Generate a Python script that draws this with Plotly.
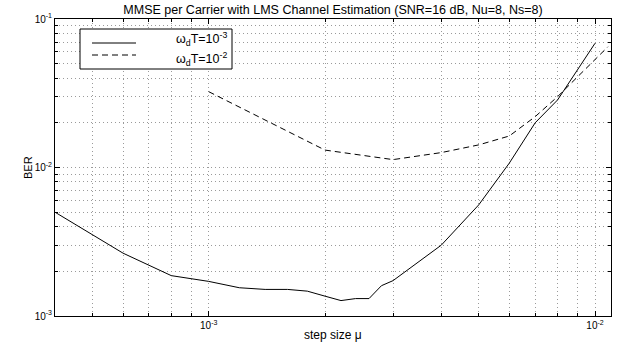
import numpy as np
import plotly.graph_objects as go

# step size mu values and BER/MMSE values
mu_slow = [4e-4, 5e-4, 6e-4, 8e-4, 1e-3, 1.2e-3, 1.4e-3, 1.6e-3, 1.8e-3, 2e-3, 2.2e-3,
           2.4e-3, 2.6e-3, 2.8e-3, 3e-3, 4e-3, 5e-3, 6e-3, 7e-3, 8e-3, 1e-2]
ber_slow = [5.0e-3, 3.52e-3, 2.65e-3, 1.87e-3, 1.71e-3, 1.55e-3, 1.51e-3, 1.51e-3, 1.47e-3,
            1.36e-3, 1.27e-3, 1.31e-3, 1.31e-3, 1.6e-3, 1.73e-3, 3.0e-3, 5.6e-3, 1.07e-2,
            2.0e-2, 2.85e-2, 6.86e-2]

mu_fast = [1e-3, 2e-3, 3e-3, 4e-3, 5e-3, 6e-3, 7e-3, 8e-3, 1.08e-2]
ber_fast = [3.24e-2, 1.31e-2, 1.13e-2, 1.26e-2, 1.42e-2, 1.63e-2, 2.2e-2, 3.0e-2, 6.5e-2]

series_names = ["ω<sub>d</sub>T=10<sup>-3</sup>", "ω<sub>d</sub>T=10<sup>-2</sup>"]

x_major = [1e-3, 1e-2]
x_major_text = ["10<sup>-3</sup>", "10<sup>-2</sup>"]
y_major = [1e-3, 1e-2, 1e-1]
y_major_text = ["10<sup>-3</sup>", "10<sup>-2</sup>", "10<sup>-1</sup>"]

x_minor = [m * 10.0 ** e for e in (-4, -3) for m in range(2, 10) if 4e-4 <= m * 10.0 ** e <= 1.1e-2]
y_minor = [m * 10.0 ** e for e in (-3, -2) for m in range(2, 10)]

title_text = "MMSE per Carrier with LMS Channel Estimation (SNR=16 dB, Nu=8, Ns=8)"
x_title = "step size μ"
y_title = "BER"

FONT = "Liberation Sans, Arial, Helvetica, sans-serif"
GRID = "#9a9a9a"
GRIDDASH = "1px,3px"

W, H = 620, 344
ML, MR, MT, MB = 55, 9, 19, 28
PW, PH = W - ML - MR, H - MT - MB


def px(x):
    return (x - ML) / PW


def py(y):
    return (H - MB - y) / PH


fig = go.Figure()
fig.add_trace(go.Scatter(x=mu_slow, y=ber_slow, mode="lines", name=series_names[0],
                         line=dict(color="black", width=1), showlegend=False))
fig.add_trace(go.Scatter(x=mu_fast, y=ber_fast, mode="lines", name=series_names[1],
                         line=dict(color="black", width=1, dash="6px,4px"), showlegend=False))

axis_common = dict(
    type="log", showline=True, linecolor="black", linewidth=1, mirror="ticks",
    ticks="inside", ticklen=5, tickcolor="black",
    showgrid=True, gridcolor=GRID, griddash=GRIDDASH, gridwidth=1,
    zeroline=False, tickfont=dict(family=FONT, size=10, color="black"),
)

fig.update_xaxes(**axis_common, range=[np.log10(4e-4), np.log10(1.1e-2)],
                 tickvals=x_major, ticktext=x_major_text,
                 minor=dict(tickvals=x_minor, ticks="inside", ticklen=3, tickcolor="black",
                            showgrid=True, gridcolor=GRID, griddash=GRIDDASH, gridwidth=1))
fig.update_yaxes(**axis_common, range=[-3, -1],
                 tickvals=y_major, ticktext=y_major_text,
                 minor=dict(tickvals=y_minor, ticks="inside", ticklen=3, tickcolor="black",
                            showgrid=True, gridcolor=GRID, griddash=GRIDDASH, gridwidth=1))

# MATLAB-style legend box: line samples on the left, labels right-aligned
LEG_FONT = dict(family=FONT, size=12.5, color="black")
legend_shapes = [
    dict(type="rect", xref="paper", yref="paper", x0=px(80), x1=px(232), y0=py(69), y1=py(29),
         line=dict(color="black", width=1), fillcolor="white", layer="above"),
    dict(type="line", xref="paper", yref="paper", x0=px(92), x1=px(136), y0=py(43), y1=py(43),
         line=dict(color="black", width=1), layer="above"),
    dict(type="line", xref="paper", yref="paper", x0=px(92), x1=px(136), y0=py(55), y1=py(55),
         line=dict(color="black", width=1, dash="6px,4px"), layer="above"),
]
legend_labels = [
    dict(text=series_names[0], xref="paper", yref="paper", x=px(229), y=py(39.5),
         xanchor="right", yanchor="middle", showarrow=False, font=LEG_FONT),
    dict(text=series_names[1], xref="paper", yref="paper", x=px(229), y=py(58.5),
         xanchor="right", yanchor="middle", showarrow=False, font=LEG_FONT),
]

fig.update_layout(
    width=W, height=H, autosize=False,
    margin=dict(l=ML, r=MR, t=MT, b=MB),
    paper_bgcolor="white", plot_bgcolor="white",
    font=dict(family=FONT, size=10, color="black"),
    title=dict(text=title_text, x=0.5, xref="paper", xanchor="center",
               y=1 - 10 / H, yref="container", yanchor="middle",
               font=dict(family=FONT, size=12.5, color="black")),
    showlegend=False,
    shapes=legend_shapes,
    annotations=[
        dict(text=x_title, xref="paper", yref="paper", x=0.5, y=py(335),
             xanchor="center", yanchor="middle", showarrow=False,
             font=dict(family=FONT, size=12, color="black")),
        dict(text=y_title, xref="paper", yref="paper", x=px(28), y=py(167),
             xanchor="center", yanchor="middle", showarrow=False, textangle=-90,
             font=dict(family=FONT, size=11, color="black")),
    ] + legend_labels,
)

fig.write_html("out.html")
